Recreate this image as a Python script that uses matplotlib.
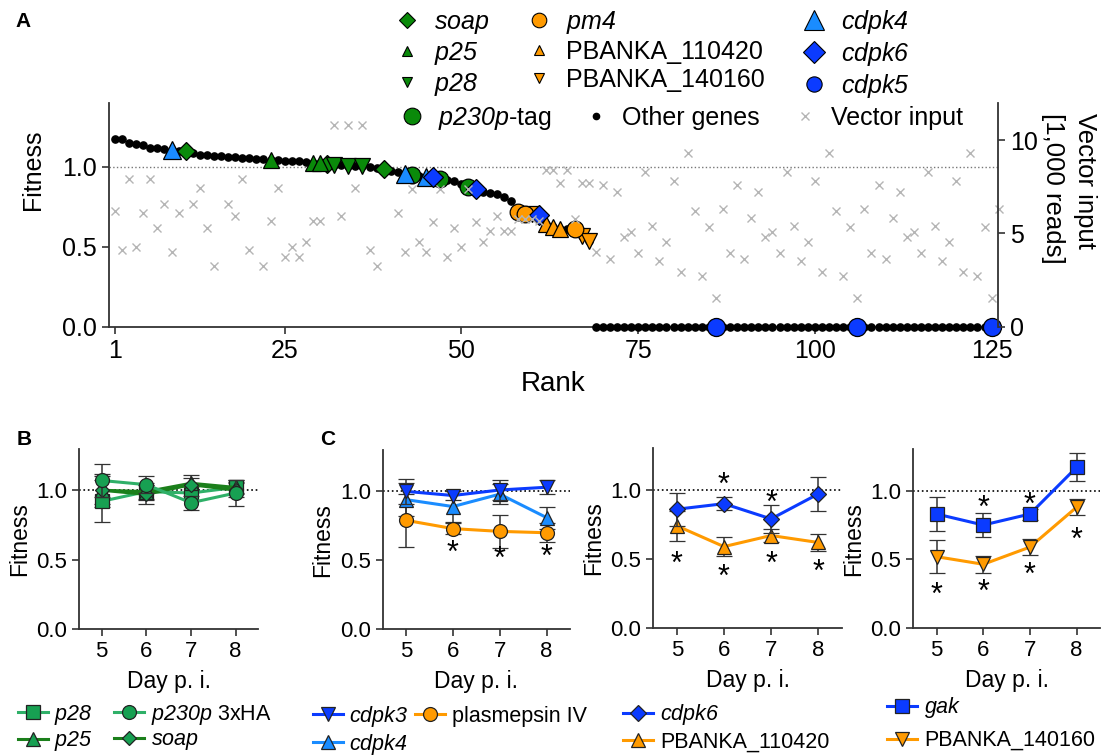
import numpy as np
import matplotlib.pyplot as plt
from matplotlib.lines import Line2D

plt.rcParams['font.family'] = ['Liberation Sans', 'DejaVu Sans']
plt.rcParams['mathtext.fontset'] = 'custom'
# math parts of labels are gene names: all italic, digits too
plt.rcParams['mathtext.rm'] = 'Liberation Sans:italic'
plt.rcParams['mathtext.it'] = 'Liberation Sans:italic'
plt.rcParams['axes.linewidth'] = 1.3
plt.rcParams['axes.edgecolor'] = '#333333'
plt.rcParams['xtick.color'] = '#333333'
plt.rcParams['ytick.color'] = '#333333'
plt.rcParams['xtick.labelcolor'] = 'black'
plt.rcParams['ytick.labelcolor'] = 'black'

# ---------------- panel A data ----------------
# fitness of each ranked gene (rank 1 .. 125)
fitness = [1.177, 1.175, 1.152, 1.142, 1.136, 1.121, 1.119, 1.115, 1.104, 1.100,
           1.098, 1.084, 1.077, 1.073, 1.071, 1.069, 1.063, 1.059, 1.056, 1.055,
           1.052, 1.048, 1.044, 1.042, 1.040, 1.038, 1.035, 1.032, 1.027, 1.022,
           1.020, 1.015, 1.010, 1.008, 1.005, 1.003, 1.000, 0.994, 0.988, 0.975,
           0.969, 0.958, 0.948, 0.943, 0.938, 0.936, 0.927, 0.917, 0.911, 0.890,
           0.875, 0.861, 0.846, 0.836, 0.830, 0.813, 0.786, 0.719, 0.708, 0.705,
           0.700, 0.645, 0.625, 0.612, 0.611, 0.610, 0.567, 0.536] + [0.0] * 57

# vector input in thousands of reads (nan = not visible)
nan = np.nan
vector_input = [6.23, 4.11, 7.90, 4.29, 6.10, 7.90, 5.27, 6.59, 4.02, 6.10,
                nan, 6.59, 7.43, 5.27, 3.28, nan, 6.59, 5.92, 7.90, 4.11,
                nan, 3.28, 5.67, 7.43, 3.76, 4.29, 3.76, 4.56, 5.67, 5.67,
                nan, 10.84, 5.92, 10.84, 7.43, 10.84, 4.11, 3.28, nan, nan,
                6.10, 4.02, 7.36, 4.56, 4.02, 5.60, 7.36, 3.76, 5.27, 4.29,
                7.36, 5.60, 4.56, 5.15, 5.92, 5.15, 5.15, 5.80, 5.80, 5.80,
                5.69, 8.38, 8.38, 7.72, 8.38, 5.78, 7.72, 7.72, 4.02, 7.61,
                3.62, 7.25, 4.79, 5.09, 3.98, 8.29, 5.42, 3.53, 4.56, 7.79,
                2.94, 9.32, 6.19, 2.72, 5.33, 1.55, 6.32, 3.98, 7.61, 3.62,
                5.81, 7.25, 4.79, 5.09, 3.98, 8.29, 5.42, 3.53, 4.56, 7.79,
                2.94, 9.32, 6.19, 2.72, 5.33, 1.55, 6.32, 3.98, 7.61, 3.62,
                5.81, 7.25, 4.79, 5.09, 3.98, 8.29, 5.42, 3.53, 4.56, 7.79,
                2.94, 9.32, 2.72, 5.33, 1.55, 6.32]

# ranks of the highlighted genes
soap_ranks = [11, 31, 39]
p25_ranks = [23, 29, 30]
p28_ranks = [32, 34, 36]
p230p_ranks = [43, 47, 51]
pm4_ranks = [58, 59, 66]
pb110420_ranks = [62, 63, 64]
pb140160_ranks = [60, 67, 68]
cdpk4_ranks = [9, 42, 45]
cdpk6_ranks = [46, 52, 61]
cdpk5_ranks = [86, 106, 125]

rank_ticks = [1, 25, 50, 75, 100, 125]

# ---------------- panel B / C data ----------------
days = [5, 6, 7, 8]

p28_fit = [0.92, 0.99, 0.98, 1.02]
p28_err = [0.15, 0.06, 0.05, 0.05]
p25_fit = [1.00, 0.99, 1.05, 1.02]
p25_err = [0.12, 0.05, 0.06, 0.04]
p230p_fit = [1.07, 1.04, 0.91, 0.98]
p230p_err = [0.12, 0.06, 0.05, 0.09]
soap_fit = [1.00, 0.97, 1.04, 1.00]
soap_err = [0.10, 0.07, 0.05, 0.05]

cdpk3_fit = [1.00, 0.97, 1.01, 1.03]
cdpk3_err = [0.09, 0.03, 0.07, 0.05]
cdpk4_fit = [0.94, 0.89, 0.98, 0.81]
cdpk4_err = [0.12, 0.11, 0.07, 0.08]
pm4_fit = [0.79, 0.73, 0.71, 0.70]
pm4_err = [0.19, 0.04, 0.12, 0.07]

cdpk6_fit = [0.86, 0.90, 0.79, 0.97]
cdpk6_err = [0.12, 0.045, 0.10, 0.12]
pb110420_fit = [0.74, 0.59, 0.67, 0.62]
pb110420_err = [0.11, 0.07, 0.05, 0.06]

gak_fit = [0.83, 0.75, 0.83, 1.17]
gak_err = [0.12, 0.09, 0.04, 0.10]
pb140160_fit = [0.52, 0.465, 0.59, 0.88]
pb140160_err = [0.12, 0.06, 0.06, 0.06]

# significance stars: (day, y level)
c1_stars = [(6, 0.60), (7, 0.555), (8, 0.57)]
c2_stars = [(6, 1.08), (7, 0.95), (5, 0.51), (6, 0.42), (7, 0.51), (8, 0.455)]
c3_stars = [(6, 0.92), (7, 0.945), (5, 0.29), (6, 0.31), (7, 0.43), (8, 0.69)]

GREEN = '#0a8a0a'
ORANGE = '#ff9a00'
LBLUE = '#1a8cff'
BLUE = '#0b3bff'
GREEN_M = '#17a052'
GREEN_L = '#2fb068'
GREEN_D = '#1b7f1b'

W, H = 1109, 755
fig = plt.figure(figsize=(W / 100, H / 100), dpi=100)


def frac(x0, y0, x1, y1):
    return [x0 / W, 1 - y1 / H, (x1 - x0) / W, (y1 - y0) / H]


# ================= panel A =================
ax = fig.add_axes(frac(109, 103, 998, 326.7))
ax.axhline(1.0, color='#777777', ls=':', lw=1.0, zorder=1)
ranks = np.arange(1, len(fitness) + 1)
ax.plot(ranks, fitness, 'o', color='black', ms=5.2, zorder=3, clip_on=False)
fit = np.array(fitness)


def mark(rk, marker, color, ms, z):
    rk = np.array(rk)
    ax.plot(rk, fit[rk - 1], marker, ms=ms, mfc=color, mec='black', mew=0.9,
            zorder=z, clip_on=False, ls='none')


mark(p230p_ranks, 'o', GREEN, 12, 4)
mark(pb140160_ranks, 'v', ORANGE, 11, 4)
mark(pm4_ranks, 'o', ORANGE, 12, 5)
mark(pb110420_ranks, '^', ORANGE, 11, 5)
mark(soap_ranks, 'D', GREEN, 9.5, 5)
mark(p25_ranks, '^', GREEN, 11, 5)
mark(p28_ranks, 'v', GREEN, 11, 5)
mark(cdpk4_ranks, '^', LBLUE, 13, 6)
mark(cdpk6_ranks, 'D', BLUE, 10, 7)
mark(cdpk5_ranks, 'o', BLUE, 13, 7)

ax.set_xlim(0.15, 125.9)
ax.set_ylim(0, 1.4)
ax.set_xticks(rank_ticks)
ax.set_yticks([0, 0.5, 1.0])
ax.set_yticklabels(['0.0', '0.5', '1.0'])
ax.tick_params(labelsize=18, length=5, width=1.2)
ax.spines['top'].set_visible(False)
ax.spines['right'].set_visible(False)
ax.set_ylabel('Fitness', fontsize=18, va='center')
ax.yaxis.set_label_coords(-0.0855, 0.70)
ax.set_xlabel('Rank', fontsize=20, labelpad=6)

ax2 = ax.twinx()
vin = np.array(vector_input)
ax2.plot(np.arange(1, len(vin) + 1), vin, 'x', color='#b5b5b5', ms=6, mew=1.0,
         clip_on=False)
ax2.set_ylim(0, 12)
ax2.set_yticks([0, 5, 10])
ax2.tick_params(labelsize=18, length=5, width=1.2)
for s in ['top', 'left', 'bottom']:
    ax2.spines[s].set_visible(False)
ax2.set_ylabel('Vector input\n[1,000 reads]', fontsize=18.5, rotation=270,
               linespacing=1.45, va='center', ha='center', multialignment='left')
ax2.yaxis.set_label_coords(1.08, 0.62)

# legend for panel A
h1 = [
    Line2D([], [], ls='none', marker='D', ms=8.5, mfc=GREEN, mec='black', mew=0.8),
    Line2D([], [], ls='none', marker='^', ms=7.5, mfc=GREEN, mec='black', mew=0.8),
    Line2D([], [], ls='none', marker='v', ms=7.5, mfc=GREEN, mec='black', mew=0.8),
    Line2D([], [], ls='none', marker='o', ms=10.5, mfc=ORANGE, mec='black', mew=0.8),
    Line2D([], [], ls='none', marker='^', ms=7.5, mfc=ORANGE, mec='black', mew=0.8),
    Line2D([], [], ls='none', marker='v', ms=7.5, mfc=ORANGE, mec='black', mew=0.8),
    Line2D([], [], ls='none', marker='^', ms=14, mfc=LBLUE, mec='black', mew=0.8),
    Line2D([], [], ls='none', marker='D', ms=11, mfc=BLUE, mec='black', mew=0.8),
    Line2D([], [], ls='none', marker='o', ms=11, mfc=BLUE, mec='black', mew=0.8),
]
l1 = [r'$soap$', r'$p25$', r'$p28$',
      r'$pm4$', 'PBANKA_110420', 'PBANKA_140160',
      r'$cdpk4$', r'$cdpk6$', r'$cdpk5$']
fig.legend(h1, l1, ncol=3, loc='upper left', bbox_to_anchor=(0.3557, 0.9894),
           frameon=False, fontsize=18, handlelength=1.0, handletextpad=0.6,
           columnspacing=1.45, labelspacing=0.16, borderpad=0, borderaxespad=0)
h2 = [
    Line2D([], [], ls='none', marker='o', ms=12, mfc=GREEN, mec='black', mew=0.8),
    Line2D([], [], ls='none', marker='o', ms=4.5, color='black'),
    Line2D([], [], ls='none', marker='x', ms=5.5, color='#b5b5b5', mew=1.0),
]
l2 = [r'$p230p$-tag', 'Other genes', 'Vector input']
fig.legend(h2, l2, ncol=3, loc='upper left', bbox_to_anchor=(0.3602, 0.8609),
           frameon=False, fontsize=18, handlelength=1.0, handletextpad=0.54,
           columnspacing=1.3, borderpad=0, borderaxespad=0)

# ================= panels B / C =================
def small_axes(box):
    a = fig.add_axes(frac(*box))
    a.axhline(1.0, color='black', ls=':', lw=1.2, zorder=0)
    a.set_xlim(4.5, 8.5)
    a.set_ylim(0, 1.3)
    a.set_xticks(days)
    a.set_yticks([0, 0.5, 1.0])
    a.set_yticklabels(['0.0', '0.5', '1.0'])
    a.tick_params(labelsize=16, length=5, width=1.2)
    a.spines['top'].set_visible(False)
    a.spines['right'].set_visible(False)
    a.set_ylabel('Fitness', fontsize=16.5, labelpad=4)
    a.set_xlabel('Day p. i.', fontsize=16.5, labelpad=6)
    return a


def series(a, y, err, marker, fc, lc, ms, z):
    c = a.errorbar(days, y, yerr=err, marker=marker, ms=ms, mfc=fc, mec='#222222',
                   mew=0.9, color=lc, lw=2.2, ecolor='#333333', elinewidth=1.1,
                   capsize=6, capthick=1.1, zorder=z)
    return c[0]


def stars(a, lst):
    for d, yv in lst:
        a.annotate('*', (d, yv), xytext=(0, -11), textcoords='offset points',
                   ha='center', va='baseline', fontsize=22)


axB = small_axes((79.3, 448.5, 258, 629.3))
hb = [series(axB, p28_fit, p28_err, 's', GREEN_M, GREEN_L, 9.5, 3),
      series(axB, p25_fit, p25_err, '^', GREEN_M, GREEN_D, 10, 3),
      series(axB, p230p_fit, p230p_err, 'o', GREEN_M, GREEN_L, 10, 4),
      series(axB, soap_fit, soap_err, 'D', GREEN_M, GREEN_D, 7.5, 3)]
fig.legend(hb, [r'$p28$', r'$p25$', r'$p230p$ 3xHA', r'$soap$'],
           ncol=2, loc='upper left', bbox_to_anchor=(0.016, 0.069), frameon=False,
           fontsize=15.5, handlelength=1.4, handletextpad=0.3, columnspacing=1.0,
           labelspacing=0.12, borderpad=0, borderaxespad=0)

axC1 = small_axes((382.7, 450, 570, 629.3))
hc1 = [series(axC1, cdpk3_fit, cdpk3_err, 'v', BLUE, BLUE, 10, 4),
       series(axC1, cdpk4_fit, cdpk4_err, '^', LBLUE, LBLUE, 10, 3),
       series(axC1, pm4_fit, pm4_err, 'o', ORANGE, ORANGE, 10, 3)]
stars(axC1, c1_stars)
fig.legend(hc1, [r'$cdpk3$', r'$cdpk4$', 'plasmepsin IV'],
           ncol=2, loc='upper left', bbox_to_anchor=(0.282, 0.068), frameon=False,
           fontsize=15.5, handlelength=1.4, handletextpad=0.3, columnspacing=0.3,
           labelspacing=0.15, borderpad=0, borderaxespad=0)

axC2 = small_axes((653.3, 448.3, 841.7, 628.3))
hc2 = [series(axC2, cdpk6_fit, cdpk6_err, 'D', BLUE, BLUE, 8, 4),
       series(axC2, pb110420_fit, pb110420_err, '^', ORANGE, ORANGE, 10, 3)]
stars(axC2, c2_stars)
fig.legend(hc2, [r'$cdpk6$', 'PBANKA_110420'],
           loc='upper left', bbox_to_anchor=(0.562, 0.070), frameon=False,
           fontsize=15.5, handlelength=1.4, handletextpad=0.3,
           labelspacing=0.22, borderpad=0, borderaxespad=0)

axC3 = small_axes((913.3, 449.3, 1100, 628.3))
hc3 = [series(axC3, gak_fit, gak_err, 's', BLUE, BLUE, 10, 4),
       series(axC3, pb140160_fit, pb140160_err, 'v', ORANGE, ORANGE, 10, 3)]
stars(axC3, c3_stars)
fig.legend(hc3, [r'$gak$', 'PBANKA_140160'],
           loc='upper left', bbox_to_anchor=(0.800, 0.079), frameon=False,
           fontsize=15.5, handlelength=1.4, handletextpad=0.3,
           labelspacing=0.45, borderpad=0, borderaxespad=0)

# panel letters
fig.text(15 / W, 1 - 12 / H, 'A', fontsize=15, fontweight='bold', va='top')
fig.text(17 / W, 1 - 430 / H, 'B', fontsize=15, fontweight='bold', va='top')
fig.text(320 / W, 1 - 430 / H, 'C', fontsize=15, fontweight='bold', va='top')

fig.savefig('out.png', dpi=100)
